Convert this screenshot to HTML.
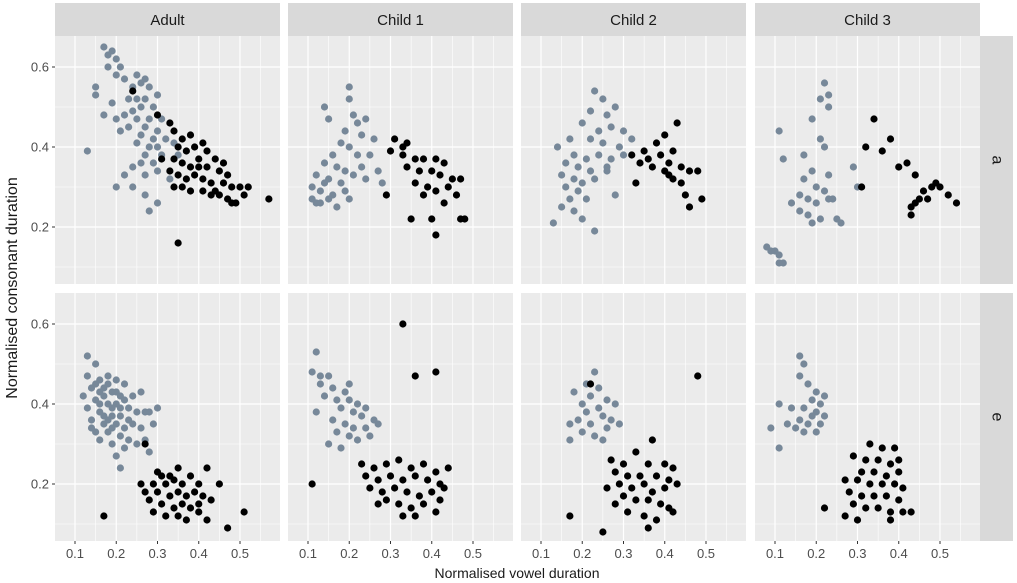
<!DOCTYPE html>
<html><head><meta charset="utf-8"><style>
body{margin:0;background:#fff;}
svg{display:block;font-family:"Liberation Sans",Arial,sans-serif;}
</style></head><body>
<svg id="chart" width="1017" height="583" viewBox="0 0 1017 583"></svg>
<script>
const speakers=["Adult","Child 1","Child 2","Child 3"];
const vowels=["a","e"];
const xTicks=[0.1,0.2,0.3,0.4,0.5];
const yTicks=[0.2,0.4,0.6];
const greyA0=[[0.17,0.65],[0.19,0.64],[0.18,0.63],[0.2,0.62],[0.18,0.6],[0.21,0.6],[0.2,0.58],[0.15,0.55],[0.15,0.53],[0.22,0.57],[0.25,0.58],[0.27,0.57],[0.26,0.56],[0.24,0.55],[0.28,0.55],[0.23,0.52],[0.25,0.52],[0.27,0.52],[0.3,0.53],[0.29,0.5],[0.26,0.5],[0.24,0.49],[0.22,0.48],[0.2,0.47],[0.25,0.47],[0.28,0.47],[0.31,0.47],[0.23,0.45],[0.27,0.45],[0.3,0.44],[0.26,0.43],[0.29,0.42],[0.32,0.42],[0.25,0.41],[0.28,0.4],[0.3,0.4],[0.27,0.38],[0.31,0.38],[0.26,0.36],[0.29,0.36],[0.24,0.35],[0.22,0.33],[0.27,0.33],[0.3,0.34],[0.13,0.39],[0.2,0.3],[0.24,0.3],[0.27,0.28],[0.3,0.26],[0.28,0.24],[0.33,0.32],[0.17,0.48],[0.19,0.51],[0.21,0.44],[0.35,0.38],[0.34,0.41]];
const blackA0=[[0.24,0.54],[0.3,0.48],[0.33,0.46],[0.34,0.44],[0.36,0.42],[0.38,0.43],[0.35,0.4],[0.37,0.39],[0.39,0.4],[0.41,0.41],[0.42,0.39],[0.44,0.37],[0.46,0.36],[0.34,0.37],[0.36,0.36],[0.38,0.35],[0.4,0.35],[0.42,0.35],[0.45,0.34],[0.47,0.33],[0.33,0.34],[0.35,0.33],[0.37,0.32],[0.39,0.33],[0.41,0.32],[0.43,0.31],[0.46,0.31],[0.48,0.3],[0.5,0.3],[0.34,0.3],[0.36,0.3],[0.38,0.29],[0.41,0.29],[0.43,0.28],[0.45,0.28],[0.47,0.27],[0.49,0.26],[0.51,0.28],[0.52,0.3],[0.57,0.27],[0.35,0.16],[0.31,0.37],[0.44,0.29],[0.48,0.26],[0.4,0.37]];
const greyA1=[[0.2,0.55],[0.2,0.52],[0.14,0.5],[0.15,0.47],[0.21,0.48],[0.22,0.46],[0.24,0.47],[0.19,0.44],[0.23,0.43],[0.26,0.42],[0.18,0.41],[0.2,0.4],[0.16,0.38],[0.22,0.38],[0.25,0.38],[0.14,0.36],[0.17,0.35],[0.19,0.34],[0.23,0.35],[0.27,0.34],[0.12,0.33],[0.15,0.32],[0.18,0.31],[0.21,0.33],[0.24,0.32],[0.11,0.3],[0.13,0.29],[0.16,0.28],[0.19,0.29],[0.11,0.27],[0.13,0.26],[0.15,0.27],[0.17,0.25],[0.2,0.27],[0.14,0.31],[0.28,0.31],[0.12,0.26]];
const blackA1=[[0.31,0.42],[0.34,0.41],[0.3,0.39],[0.33,0.38],[0.36,0.37],[0.38,0.37],[0.41,0.37],[0.43,0.36],[0.34,0.35],[0.37,0.34],[0.4,0.34],[0.42,0.33],[0.45,0.32],[0.47,0.32],[0.36,0.31],[0.39,0.3],[0.41,0.29],[0.44,0.3],[0.46,0.28],[0.38,0.28],[0.43,0.26],[0.35,0.22],[0.4,0.22],[0.47,0.22],[0.48,0.22],[0.29,0.28],[0.41,0.18],[0.33,0.4]];
const greyA2=[[0.23,0.54],[0.25,0.52],[0.22,0.49],[0.26,0.48],[0.28,0.5],[0.2,0.46],[0.24,0.44],[0.27,0.45],[0.3,0.44],[0.17,0.42],[0.22,0.42],[0.25,0.41],[0.29,0.4],[0.32,0.42],[0.14,0.4],[0.18,0.38],[0.21,0.37],[0.24,0.38],[0.27,0.37],[0.3,0.38],[0.16,0.36],[0.19,0.35],[0.22,0.34],[0.26,0.35],[0.15,0.33],[0.18,0.32],[0.2,0.31],[0.23,0.32],[0.16,0.3],[0.19,0.29],[0.17,0.27],[0.21,0.27],[0.15,0.25],[0.18,0.24],[0.2,0.22],[0.13,0.21],[0.23,0.19],[0.26,0.34],[0.28,0.28]];
const blackA2=[[0.43,0.46],[0.4,0.43],[0.38,0.41],[0.35,0.39],[0.32,0.38],[0.36,0.37],[0.39,0.38],[0.42,0.39],[0.34,0.36],[0.37,0.35],[0.41,0.36],[0.44,0.35],[0.46,0.34],[0.48,0.34],[0.33,0.31],[0.4,0.34],[0.42,0.32],[0.44,0.31],[0.45,0.28],[0.46,0.25],[0.49,0.27],[0.41,0.33]];
const greyA3=[[0.22,0.56],[0.23,0.53],[0.21,0.52],[0.23,0.5],[0.19,0.47],[0.21,0.42],[0.22,0.4],[0.11,0.44],[0.17,0.38],[0.12,0.37],[0.19,0.34],[0.23,0.33],[0.17,0.32],[0.2,0.3],[0.22,0.29],[0.16,0.28],[0.18,0.27],[0.2,0.26],[0.24,0.27],[0.14,0.26],[0.16,0.24],[0.18,0.23],[0.21,0.22],[0.25,0.22],[0.19,0.21],[0.26,0.21],[0.23,0.27],[0.29,0.35],[0.3,0.3],[0.08,0.15],[0.09,0.14],[0.1,0.14],[0.11,0.13],[0.11,0.11],[0.12,0.11]];
const blackA3=[[0.34,0.47],[0.38,0.42],[0.32,0.4],[0.36,0.39],[0.42,0.36],[0.44,0.33],[0.4,0.35],[0.46,0.29],[0.48,0.3],[0.49,0.31],[0.5,0.3],[0.52,0.28],[0.54,0.26],[0.47,0.27],[0.45,0.27],[0.44,0.26],[0.43,0.23],[0.43,0.25],[0.31,0.3]];
const greyE0=[[0.13,0.52],[0.15,0.5],[0.13,0.47],[0.16,0.46],[0.18,0.47],[0.2,0.46],[0.22,0.45],[0.14,0.44],[0.17,0.44],[0.19,0.43],[0.21,0.42],[0.24,0.42],[0.26,0.43],[0.12,0.42],[0.15,0.41],[0.18,0.4],[0.2,0.4],[0.23,0.39],[0.25,0.38],[0.27,0.38],[0.13,0.39],[0.16,0.38],[0.19,0.37],[0.21,0.37],[0.14,0.36],[0.17,0.35],[0.2,0.35],[0.22,0.34],[0.24,0.35],[0.26,0.34],[0.15,0.33],[0.18,0.33],[0.21,0.32],[0.23,0.31],[0.16,0.31],[0.19,0.3],[0.22,0.29],[0.25,0.3],[0.2,0.27],[0.21,0.24],[0.28,0.38],[0.29,0.35],[0.3,0.39],[0.18,0.45],[0.16,0.43],[0.22,0.41],[0.19,0.39],[0.17,0.37],[0.23,0.36],[0.14,0.34],[0.28,0.28],[0.27,0.31],[0.15,0.45],[0.17,0.42],[0.2,0.43],[0.18,0.36],[0.21,0.39],[0.16,0.4],[0.19,0.34]];
const blackE0=[[0.27,0.3],[0.33,0.22],[0.35,0.24],[0.31,0.22],[0.29,0.2],[0.32,0.2],[0.34,0.21],[0.36,0.2],[0.38,0.22],[0.4,0.2],[0.42,0.24],[0.27,0.18],[0.3,0.18],[0.33,0.17],[0.35,0.18],[0.37,0.17],[0.39,0.18],[0.41,0.17],[0.28,0.16],[0.31,0.15],[0.34,0.14],[0.36,0.15],[0.38,0.14],[0.4,0.15],[0.43,0.16],[0.29,0.13],[0.32,0.12],[0.35,0.12],[0.37,0.11],[0.4,0.13],[0.42,0.11],[0.17,0.12],[0.47,0.09],[0.51,0.13],[0.26,0.2],[0.3,0.23],[0.45,0.2]];
const greyE1=[[0.12,0.53],[0.11,0.48],[0.13,0.47],[0.15,0.47],[0.13,0.45],[0.16,0.44],[0.19,0.43],[0.2,0.45],[0.14,0.42],[0.17,0.41],[0.2,0.41],[0.22,0.4],[0.24,0.39],[0.18,0.39],[0.21,0.38],[0.23,0.37],[0.26,0.36],[0.16,0.36],[0.19,0.35],[0.21,0.34],[0.24,0.34],[0.17,0.33],[0.2,0.32],[0.22,0.31],[0.25,0.32],[0.15,0.3],[0.18,0.29],[0.12,0.38],[0.27,0.35]];
const blackE1=[[0.33,0.6],[0.36,0.47],[0.41,0.48],[0.23,0.25],[0.26,0.24],[0.29,0.25],[0.32,0.26],[0.35,0.24],[0.38,0.25],[0.41,0.23],[0.44,0.24],[0.24,0.22],[0.27,0.21],[0.3,0.22],[0.33,0.21],[0.36,0.22],[0.39,0.21],[0.42,0.2],[0.25,0.19],[0.28,0.18],[0.31,0.19],[0.34,0.18],[0.37,0.17],[0.4,0.18],[0.43,0.19],[0.29,0.16],[0.32,0.15],[0.35,0.14],[0.38,0.15],[0.42,0.16],[0.33,0.12],[0.36,0.12],[0.11,0.2],[0.41,0.13],[0.27,0.15]];
const greyE2=[[0.23,0.48],[0.21,0.45],[0.24,0.44],[0.18,0.43],[0.22,0.42],[0.26,0.41],[0.28,0.4],[0.2,0.4],[0.24,0.39],[0.21,0.38],[0.25,0.37],[0.27,0.36],[0.19,0.36],[0.22,0.35],[0.26,0.34],[0.2,0.33],[0.23,0.32],[0.17,0.35],[0.25,0.31],[0.29,0.35],[0.17,0.31]];
const blackE2=[[0.48,0.47],[0.22,0.45],[0.37,0.31],[0.33,0.28],[0.27,0.26],[0.3,0.25],[0.36,0.25],[0.4,0.25],[0.42,0.24],[0.28,0.23],[0.31,0.22],[0.34,0.22],[0.38,0.22],[0.41,0.21],[0.29,0.2],[0.32,0.19],[0.35,0.2],[0.37,0.18],[0.4,0.19],[0.43,0.2],[0.3,0.17],[0.33,0.16],[0.36,0.16],[0.39,0.15],[0.41,0.14],[0.28,0.15],[0.31,0.13],[0.35,0.12],[0.38,0.11],[0.42,0.13],[0.25,0.08],[0.17,0.12],[0.36,0.09],[0.26,0.19]];
const greyE3=[[0.16,0.52],[0.17,0.5],[0.16,0.47],[0.18,0.45],[0.2,0.43],[0.22,0.42],[0.19,0.41],[0.21,0.4],[0.11,0.4],[0.14,0.39],[0.17,0.39],[0.2,0.38],[0.22,0.37],[0.16,0.36],[0.18,0.35],[0.21,0.35],[0.15,0.34],[0.17,0.33],[0.2,0.33],[0.09,0.34],[0.13,0.35],[0.11,0.29],[0.19,0.37]];
const blackE3=[[0.33,0.3],[0.36,0.29],[0.39,0.29],[0.29,0.27],[0.32,0.26],[0.35,0.26],[0.38,0.25],[0.4,0.26],[0.31,0.23],[0.34,0.23],[0.37,0.22],[0.4,0.23],[0.27,0.21],[0.3,0.21],[0.33,0.2],[0.36,0.2],[0.39,0.2],[0.41,0.19],[0.28,0.18],[0.31,0.17],[0.34,0.17],[0.37,0.17],[0.4,0.16],[0.29,0.15],[0.32,0.14],[0.35,0.14],[0.38,0.13],[0.41,0.13],[0.43,0.13],[0.27,0.12],[0.3,0.11],[0.22,0.14],[0.38,0.11]];
const greySeries=[[greyA0,greyA1,greyA2,greyA3],[greyE0,greyE1,greyE2,greyE3]];
const blackSeries=[[blackA0,blackA1,blackA2,blackA3],[blackE0,blackE1,blackE2,blackE3]];

const NS="http://www.w3.org/2000/svg";
const svg=document.getElementById('chart');
function mk(tag,attrs,parent){const e=document.createElementNS(NS,tag);for(const k in attrs)e.setAttribute(k,attrs[k]);(parent||svg).appendChild(e);return e;}
const panelX=[55,288,521,755], panelW=225;
const panelY=[36,293], panelH=248;
const xMin=0.0515, xMax=0.597, yMin=0.0575, yMax=0.6775;
function sx(c,v){return panelX[c]+(v-xMin)/(xMax-xMin)*panelW;}
function sy(r,v){return panelY[r]+panelH-(v-yMin)/(yMax-yMin)*panelH;}

speakers.forEach((s,c)=>{
  const r=mk('rect',{x:panelX[c],y:3,width:panelW,height:33,fill:'#d9d9d9'});
  
  
  const t=mk('text',{x:panelX[c]+panelW/2,y:25,'text-anchor':'middle','font-size':15,fill:'#1a1a1a'});
  t.textContent=s;
  
  
});
vowels.forEach((v,r)=>{
  const rr=mk('rect',{x:980,y:panelY[r],width:33,height:panelH,fill:'#d9d9d9'});
  
  
  const cy=panelY[r]+panelH/2;
  const t=mk('text',{x:997,y:cy,'text-anchor':'middle','dominant-baseline':'central','font-size':16,fill:'#1a1a1a',transform:`rotate(90 997 ${cy})`});
  t.textContent=v;
  
  
});

for(let r=0;r<2;r++){
  for(let c=0;c<4;c++){
    const g=mk('g',{});
    
    
    mk('rect',{x:panelX[c],y:panelY[r],width:panelW,height:panelH,fill:'#ebebeb'},g);
    [0.15,0.25,0.35,0.45,0.55].forEach(v=>{const x=sx(c,v);mk('line',{x1:x,x2:x,y1:panelY[r],y2:panelY[r]+panelH,stroke:'#fff','stroke-width':0.6},g);});
    [0.1,0.3,0.5].forEach(v=>{const y=sy(r,v);mk('line',{x1:panelX[c],x2:panelX[c]+panelW,y1:y,y2:y,stroke:'#fff','stroke-width':0.6},g);});
    xTicks.forEach(v=>{const x=sx(c,v);mk('line',{x1:x,x2:x,y1:panelY[r],y2:panelY[r]+panelH,stroke:'#fff','stroke-width':1.2},g);});
    yTicks.forEach(v=>{const y=sy(r,v);mk('line',{x1:panelX[c],x2:panelX[c]+panelW,y1:y,y2:y,stroke:'#fff','stroke-width':1.2},g);});
    greySeries[r][c].forEach(p=>{
      const pt=mk('circle',{cx:sx(c,p[0]),cy:sy(r,p[1]),r:3.6,fill:'#778899'},g);
      
      
    });
    blackSeries[r][c].forEach(p=>{
      const pt=mk('circle',{cx:sx(c,p[0]),cy:sy(r,p[1]),r:3.6,fill:'#000'},g);
      
      
    });
  }
  yTicks.forEach(v=>{
    const y=sy(r,v);
    mk('line',{x1:52,x2:55,y1:y,y2:y,stroke:'#333','stroke-width':1});
    const t=mk('text',{x:49,y:y+4.5,'text-anchor':'end','font-size':13,fill:'#4d4d4d'});
    t.textContent=String(v);
    
    
  });
}
for(let c=0;c<4;c++){
  xTicks.forEach(v=>{
    const x=sx(c,v);
    mk('line',{x1:x,x2:x,y1:541,y2:544,stroke:'#333','stroke-width':1});
    const t=mk('text',{x:x,y:558,'text-anchor':'middle','font-size':13,fill:'#4d4d4d'});
    t.textContent=String(v);
    
    
  });
}
const xt=mk('text',{x:517,y:578,'text-anchor':'middle','font-size':14,fill:'#1a1a1a'});
xt.textContent='Normalised vowel duration';


const yt=mk('text',{x:17,y:288,'text-anchor':'middle','font-size':16,fill:'#1a1a1a',transform:'rotate(-90 17 288)'});
yt.textContent='Normalised consonant duration';


</script>
</body></html>
